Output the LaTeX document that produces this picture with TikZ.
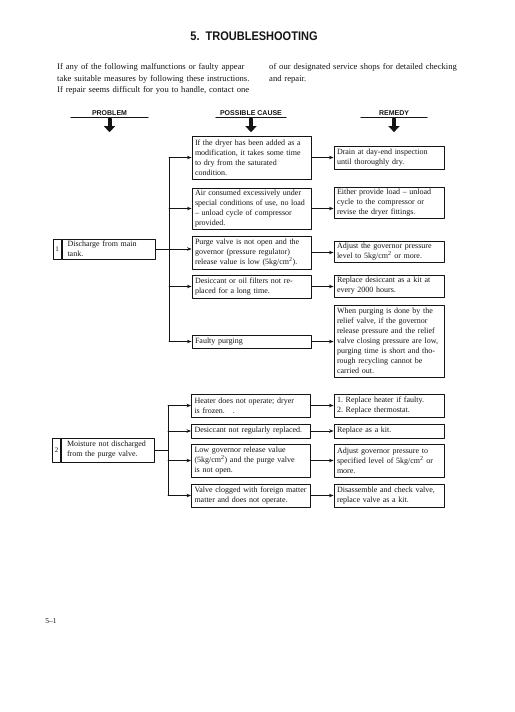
\documentclass[tikz,border=0pt]{standalone}
\usepackage{fontspec}
\setmainfont{Liberation Serif}
\newfontfamily\headfont{Liberation Sans}
\newfontfamily\titlefont[FakeStretch=0.88]{Liberation Sans}
\usetikzlibrary{arrows.meta,positioning}
\definecolor{ink}{HTML}{141414}

\tikzset{
  box/.style={draw=ink,line width=.9pt,inner xsep=3pt,inner ysep=1.5pt,
    align=left,font=\fontsize{8}{10}\selectfont},
  cause/.style={box,text width=113pt},
  remedy/.style={box,text width=104pt},
  problem/.style={box,minimum width=93pt,text width=82pt},
  numcell/.style={draw=ink,line width=.9pt,inner sep=0pt,minimum width=8pt,
    font=\fontsize{7}{8}\selectfont},
  link/.style={draw=ink,line width=.8pt,-{Stealth[length=4.5pt,width=3.5pt]}},
  trunk/.style={draw=ink,line width=.9pt},
  colhead/.style={font=\headfont\bfseries\fontsize{7}{8}\selectfont,inner sep=1.5pt},
  bigdown/.style={draw=ink,line width=4pt,-{Triangle[width=11pt,length=6pt]}},
}

\begin{document}
\begin{tikzpicture}[x=1pt,y=-1pt,text=ink,line cap=round,line join=round]
  \useasboundingbox (0,0) rectangle (514,712);

  % Heading and introduction
  \node[font=\titlefont\bfseries\fontsize{12.5}{14}\selectfont] (title) at (254,36)
    {5.\ \ TROUBLESHOOTING};
  \node[anchor=north west,inner sep=0pt,text width=192pt,align=left,
    font=\fontsize{8.6}{11.3}\selectfont] (introl) at (57,63.5)
    {\makebox[192pt][s]{If any of the following malfunctions or faulty appear}\\
     \makebox[192pt][s]{take suitable measures by following these instructions.}\\
     \makebox[192pt][s]{If repair seems difficult for you to handle, contact one}};
  \node[anchor=north west,inner sep=0pt,text width=192pt,align=left,
    font=\fontsize{8.6}{11.3}\selectfont] (intror) at (269,63.5)
    {\makebox[192pt][s]{of our designated service shops for detailed checking}\\
     and repair.};

  % Column heads
  \node[colhead,minimum width=77pt] (hprob) at (109.5,113) {PROBLEM};
  \node[colhead,minimum width=70pt] (hcause) at (251,113) {POSSIBLE CAUSE};
  \node[colhead,minimum width=66pt] (hrem) at (394,113) {REMEDY};
  \foreach \h in {hprob,hcause,hrem}{
    \draw[ink,line width=.8pt] (\h.south west) -- (\h.south east);
    \draw[bigdown] ([yshift=-2pt]\h.south) -- ++(0,13);
  }

  % Problem 1: discharge from main tank
  \node[problem,minimum height=20pt] (p1) at (108.5,249) {Discharge from main\\tank.};
  \node[numcell,minimum height=20pt,left=0pt of p1] (p1n) {1};
  \node[cause,minimum height=43pt] (c1) at (251.5,157.5)
    {If the dryer has been added as a\\modification, it takes some time\\to dry from the saturated\\condition.};
  \node[cause,minimum height=41pt] (c2) at (251.5,208.5)
    {Air consumed excessively under\\special conditions of use, no load\\-- unload cycle of compressor\\provided.};
  \node[cause,minimum height=33pt] (c3) at (251.5,252.5)
    {Purge valve is not open and the\\governor (pressure regulator)\\release value is low (5kg/cm\textsuperscript{2}).};
  \node[cause,minimum height=23pt] (c4) at (251.5,286.5)
    {Desiccant or oil filters not re-\\placed for a long time.};
  \node[cause,minimum height=13pt] (c5) at (251.5,341.5) {Faulty purging};

  \node[remedy,minimum height=23pt] (r1) at (389,157.5)
    {Drain at day-end inspection\\until thoroughly dry.};
  \node[remedy,minimum height=22pt] (r2) at (389,203)
    {Either provide load -- unload\\cycle to the compressor or\\revise the dryer fittings.};
  \node[remedy,minimum height=21pt] (r3) at (389,251.5)
    {Adjust the governor pressure\\level to 5kg/cm\textsuperscript{2} or more.};
  \node[remedy,minimum height=22pt] (r4) at (389,286)
    {Replace desiccant as a kit at\\every 2000 hours.};
  \node[remedy,minimum height=72pt] (r5) at (389,341)
    {When purging is done by the\\relief valve, if the governor\\release pressure and the relief\\valve closing pressure are low,\\purging time is short and tho-\\rough recycling cannot be\\carried out.};

  \coordinate (tr1) at (169,0);
  \draw[trunk] (c1.west -| tr1) -- (c5.west -| tr1);
  \foreach \c in {c1,c2,c4,c5}
    \draw[link] (\c.west -| tr1) -- (\c.west);
  \draw[link] (p1.east) -- (p1.east -| c3.west);
  \foreach \c/\r in {c1/r1,c2/r2,c3/r3,c4/r4,c5/r5}
    \draw[link] (\c.east) -- (\c.east -| \r.west);

  % Problem 2: moisture not discharged
  \node[problem,minimum height=24pt] (p2) at (108,450) {Moisture not discharged\\from the purge valve.};
  \node[numcell,minimum height=24pt,left=0pt of p2] (p2n) {2};
  \node[cause,minimum height=23pt] (ca) at (251,405.5)
    {Heater does not operate; dryer\\is frozen.\ \ \ .};
  \node[cause,minimum height=14pt] (cb) at (251,431)
    {Desiccant not regularly replaced.};
  \node[cause,minimum height=33pt] (cc) at (251,460.5)
    {Low governor release value\\(5kg/cm\textsuperscript{2}) and the purge valve\\is not open.};
  \node[cause,minimum height=23pt] (cd) at (251,495.5)
    {Valve clogged with foreign matter\\matter and does not operate.};

  \node[remedy,minimum height=23pt] (ra) at (389,405.5)
    {1.\ Replace heater if faulty.\\2.\ Replace thermostat.};
  \node[remedy,minimum height=14pt] (rb) at (389,431) {Replace as a kit.};
  \node[remedy,minimum height=33pt] (rc) at (389,460.5)
    {Adjust governor pressure to\\specified level of 5kg/cm\textsuperscript{2} or\\more.};
  \node[remedy,minimum height=23pt] (rd) at (389,495.5)
    {Disassemble and check valve,\\replace valve as a kit.};

  \coordinate (tr2) at (168,0);
  \draw[trunk] (p2.east) -- (p2.east -| tr2);
  \draw[trunk] (ca.west -| tr2) -- (cd.west -| tr2);
  \foreach \c in {ca,cb,cc,cd}
    \draw[link] (\c.west -| tr2) -- (\c.west);
  \foreach \c/\r in {ca/ra,cb/rb,cc/rc,cd/rd}
    \draw[link] (\c.east) -- (\c.east -| \r.west);

  % Page number
  \node[font=\fontsize{7.5}{9}\selectfont] (pageno) at (51,621) {5--1};
\end{tikzpicture}
\end{document}
